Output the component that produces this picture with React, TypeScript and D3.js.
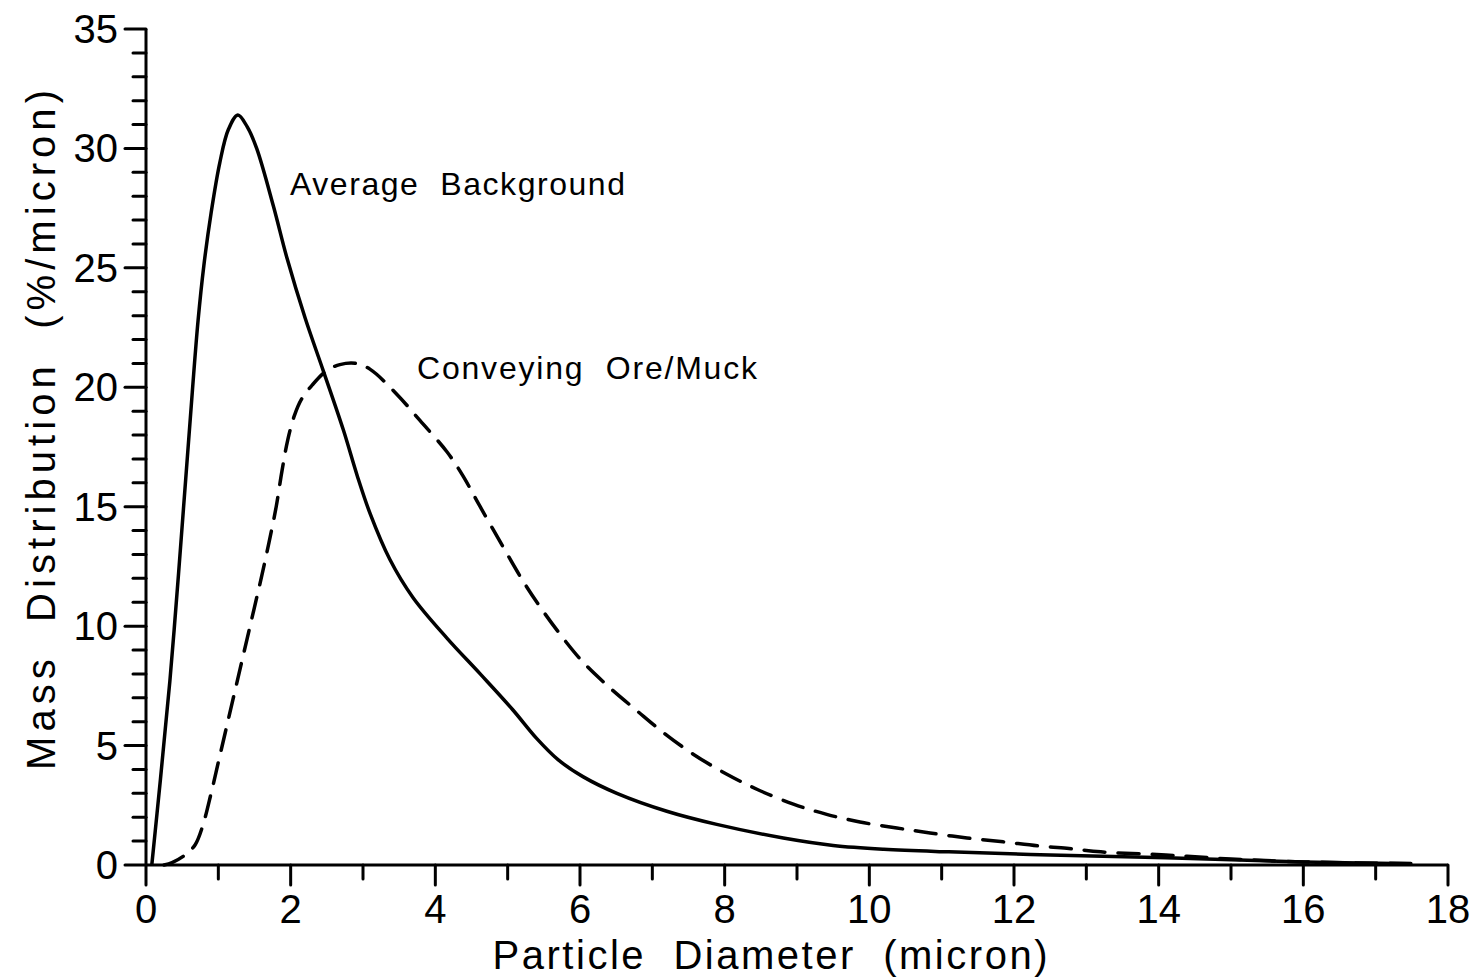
import React from "react";
import * as d3 from "d3";

const backgroundX = [0.08, 0.2, 0.33, 0.45, 0.55, 0.64, 0.72, 0.8, 0.9, 1.02, 1.14, 1.27, 1.4, 1.53, 1.76, 1.95, 2.2, 2.45, 2.73, 2.92, 3.1, 3.37, 3.69, 4.16, 4.62, 5.07, 5.4, 5.7, 6.04, 6.51, 7.2, 7.89, 8.81, 9.5, 10.2, 11.1, 12.5, 14.1, 16, 17.5];
const backgroundY = [0, 3.6, 7.7, 12.2, 16.2, 19.8, 22.8, 25.1, 27.3, 29.4, 30.8, 31.4, 30.9, 30.0, 27.6, 25.4, 22.9, 20.7, 18.2, 16.3, 14.7, 12.8, 11.2, 9.5, 8.0, 6.5, 5.3, 4.4, 3.7, 3.0, 2.25, 1.7, 1.13, 0.82, 0.66, 0.55, 0.42, 0.3, 0.13, 0.05];

const conveyingX = [0.25, 0.36, 0.54, 0.68, 0.78, 0.9, 1.0, 1.1, 1.2, 1.3, 1.4, 1.5, 1.6, 1.7, 1.8, 1.88, 1.96, 2.05, 2.15, 2.3, 2.5, 2.68, 2.9, 3.1, 3.47, 3.79, 4.16, 4.38, 4.62, 4.94, 5.21, 5.45, 5.74, 6.04, 6.42, 6.79, 7.15, 7.56, 8.03, 8.46, 8.95, 9.41, 9.87, 10.38, 10.84, 11.35, 11.85, 12.33, 12.73, 13.2, 14.1, 15.0, 16, 17.5];
const conveyingY = [0, 0.1, 0.42, 0.85, 1.6, 3.0, 4.3, 5.6, 6.9, 8.2, 9.5, 10.8, 12.1, 13.5, 15.0, 16.5, 17.8, 18.8, 19.5, 20.1, 20.7, 20.95, 21.0, 20.75, 19.7, 18.6, 17.3, 16.3, 15.0, 13.3, 11.9, 10.8, 9.6, 8.5, 7.4, 6.45, 5.55, 4.65, 3.8, 3.15, 2.55, 2.12, 1.8, 1.55, 1.34, 1.13, 0.97, 0.8, 0.7, 0.55, 0.42, 0.25, 0.13, 0.06];

const xMajorTicks = [0, 2, 4, 6, 8, 10, 12, 14, 16, 18];
const xMinorTicks = [1, 3, 5, 7, 9, 11, 13, 15, 17];
const yMajorTicks = [0, 5, 10, 15, 20, 25, 30, 35];
const yMinorTicks = d3.range(0, 36).filter((v) => v % 5 !== 0);

const xTitle = "Particle  Diameter  (micron)";
const yTitle = "Mass  Distribution  (%/micron)";
const labelBackground = "Average  Background";
const labelConveying = "Conveying  Ore/Muck";

const FONT = "'Liberation Sans', Arial, sans-serif";

export default function App() {
  const x = d3.scaleLinear().domain([0, 18]).range([146, 1448]);
  const y = d3.scaleLinear().domain([0, 35]).range([865, 29]);

  const line = d3
    .line<[number, number]>()
    .x((d) => x(d[0]))
    .y((d) => y(d[1]))
    .curve(d3.curveCatmullRom.alpha(0.5));

  const bg: [number, number][] = backgroundX.map((v, i) => [v, backgroundY[i]]);
  const cv: [number, number][] = conveyingX.map((v, i) => [v, conveyingY[i]]);

  const stroke = "#000";

  return (
    <svg
      width={1477}
      height={978}
      style={{ position: "absolute", left: 0, top: 0, background: "#fff" }}
      fontFamily={FONT}
    >
      <rect x={0} y={0} width={1477} height={978} fill="#fff" />
      {/* axes */}
      <line x1={x(0)} x2={x(0)} y1={y(0)} y2={y(35)} stroke={stroke} strokeWidth={3} />
      <line x1={x(0)} x2={x(18)} y1={y(0)} y2={y(0)} stroke={stroke} strokeWidth={3} />
      {yMajorTicks.map((t) => (
        <g key={"ym" + t}>
          <line x1={x(0) - 21} x2={x(0)} y1={y(t)} y2={y(t)} stroke={stroke} strokeWidth={3} strokeLinecap="round" />
          <text x={118} y={y(t) + 14} textAnchor="end" fontSize={40}>
            {t}
          </text>
        </g>
      ))}
      {yMinorTicks.map((t) => (
        <line key={"yn" + t} x1={x(0) - 13} x2={x(0)} y1={y(t)} y2={y(t)} stroke={stroke} strokeWidth={3} strokeLinecap="round" />
      ))}
      {xMajorTicks.map((t) => (
        <g key={"xm" + t}>
          <line x1={x(t)} x2={x(t)} y1={y(0)} y2={y(0) + 20} stroke={stroke} strokeWidth={3} strokeLinecap="round" />
          <text x={x(t)} y={923} textAnchor="middle" fontSize={40}>
            {t}
          </text>
        </g>
      ))}
      {xMinorTicks.map((t) => (
        <line key={"xn" + t} x1={x(t)} x2={x(t)} y1={y(0)} y2={y(0) + 14} stroke={stroke} strokeWidth={3} strokeLinecap="round" />
      ))}

      {/* titles */}
      <text
        x={770}
        y={969}
        textAnchor="middle"
        fontSize={40}
        textLength={555}
        lengthAdjust="spacing"
        style={{ whiteSpace: "pre" }}
      >
        {xTitle}
      </text>
      <text
        transform={`translate(55, 430) rotate(-90)`}
        textAnchor="middle"
        fontSize={40}
        textLength={680}
        lengthAdjust="spacing"
        style={{ whiteSpace: "pre" }}
      >
        {yTitle}
      </text>

      {/* curves */}
      <path d={line(bg) || ""} fill="none" stroke={stroke} strokeWidth={3.5} strokeLinejoin="round" />
      <path
        d={line(cv) || ""}
        fill="none"
        stroke={stroke}
        strokeWidth={3.5}
        strokeDasharray="21 13"
        strokeLinecap="round"
      />

      {/* annotations */}
      <text x={290} y={195} fontSize={32} textLength={335} lengthAdjust="spacing" style={{ whiteSpace: "pre" }}>
        {labelBackground}
      </text>
      <text x={417} y={379} fontSize={32} textLength={340} lengthAdjust="spacing" style={{ whiteSpace: "pre" }}>
        {labelConveying}
      </text>
    </svg>
  );
}
